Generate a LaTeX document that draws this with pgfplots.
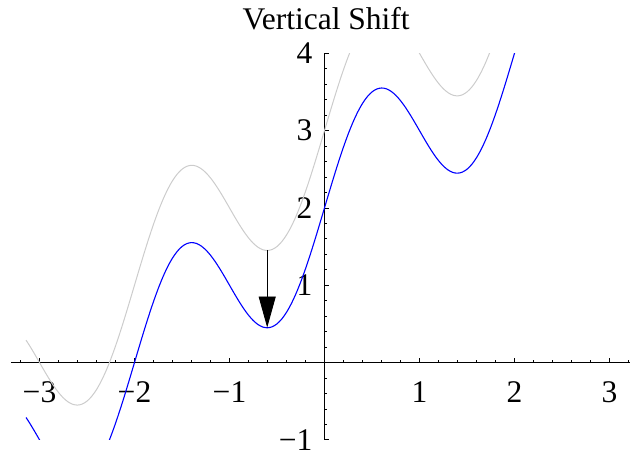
\documentclass[border=0pt]{standalone}
\usepackage{fontspec}
\setmainfont{Liberation Serif}
\usepackage{pgfplots}
\pgfplotsset{compat=1.18}
\usepackage{pgfplotstable}
\usetikzlibrary{arrows.meta}
\newcommand\tl[1]{\textrm{#1}}

\pgfplotstableread{
x f g
-3.1416 -0.7113 0.2887
-3.10 -0.7910 0.2090
-3.05 -0.8936 0.1064
-3.00 -1.0000 0.0000
-2.95 -1.1064 -0.1064
-2.90 -1.2090 -0.2090
-2.85 -1.3040 -0.3040
-2.80 -1.3878 -0.3878
-2.75 -1.4571 -0.4571
-2.70 -1.5090 -0.5090
-2.65 -1.5410 -0.5410
-2.60 -1.5511 -0.5511
-2.55 -1.5377 -0.5377
-2.50 -1.5000 -0.5000
-2.45 -1.4377 -0.4377
-2.40 -1.3511 -0.3511
-2.35 -1.2410 -0.2410
-2.30 -1.1090 -0.1090
-2.25 -0.9571 0.0429
-2.20 -0.7878 0.2122
-2.15 -0.6040 0.3960
-2.10 -0.4090 0.5910
-2.05 -0.2064 0.7936
-2.00 0.0000 1.0000
-1.95 0.2064 1.2064
-1.90 0.4090 1.4090
-1.85 0.6040 1.6040
-1.80 0.7878 1.7878
-1.75 0.9571 1.9571
-1.70 1.1090 2.1090
-1.65 1.2410 2.2410
-1.60 1.3511 2.3511
-1.55 1.4377 2.4377
-1.50 1.5000 2.5000
-1.45 1.5377 2.5377
-1.40 1.5511 2.5511
-1.35 1.5410 2.5410
-1.30 1.5090 2.5090
-1.25 1.4571 2.4571
-1.20 1.3878 2.3878
-1.15 1.3040 2.3040
-1.10 1.2090 2.2090
-1.05 1.1064 2.1064
-1.00 1.0000 2.0000
-0.95 0.8936 1.8936
-0.90 0.7910 1.7910
-0.85 0.6960 1.6960
-0.80 0.6122 1.6122
-0.75 0.5429 1.5429
-0.70 0.4910 1.4910
-0.65 0.4590 1.4590
-0.60 0.4489 1.4489
-0.55 0.4623 1.4623
-0.50 0.5000 1.5000
-0.45 0.5623 1.5623
-0.40 0.6489 1.6489
-0.35 0.7590 1.7590
-0.30 0.8910 1.8910
-0.25 1.0429 2.0429
-0.20 1.2122 2.2122
-0.15 1.3960 2.3960
-0.10 1.5910 2.5910
-0.05 1.7936 2.7936
0.00 2.0000 3.0000
0.05 2.2064 3.2064
0.10 2.4090 3.4090
0.15 2.6040 3.6040
0.20 2.7878 3.7878
0.25 2.9571 3.9571
0.30 3.1090 4.1090
0.35 3.2410 4.2410
0.40 3.3511 4.3511
0.45 3.4377 4.4377
0.50 3.5000 4.5000
0.55 3.5377 4.5377
0.60 3.5511 4.5511
0.65 3.5410 4.5410
0.70 3.5090 4.5090
0.75 3.4571 4.4571
0.80 3.3878 4.3878
0.85 3.3040 4.3040
0.90 3.2090 4.2090
0.95 3.1064 4.1064
1.00 3.0000 4.0000
1.05 2.8936 3.8936
1.10 2.7910 3.7910
1.15 2.6960 3.6960
1.20 2.6122 3.6122
1.25 2.5429 3.5429
1.30 2.4910 3.4910
1.35 2.4590 3.4590
1.40 2.4489 3.4489
1.45 2.4623 3.4623
1.50 2.5000 3.5000
1.55 2.5623 3.5623
1.60 2.6489 3.6489
1.65 2.7590 3.7590
1.70 2.8910 3.8910
1.75 3.0429 4.0429
1.80 3.2122 4.2122
1.85 3.3960 4.3960
1.90 3.5910 4.5910
1.95 3.7936 4.7936
2.00 4.0000 5.0000
2.05 4.2064 5.2064
}\data

\begin{document}
\begin{tikzpicture}
\begin{axis}[
  x=95bp, y=77.3bp,
  xmin=-3.30, xmax=3.216, ymin=-1, ymax=4,
  axis lines=middle,
  every inner x axis line/.append style={-},
  every inner y axis line/.append style={-},
  axis line style={-, line width=0.8bp, black},
  xtick={-3,-2,-1,1,2,3},
  xticklabels={\tl{−3},\tl{−2},\tl{−1},\tl{1},\tl{2},\tl{3}},
  ytick={-1,1,2,3,4},
  yticklabels={\tl{−1},\tl{1},\tl{2},\tl{3},\tl{4}},
  minor xtick={-3.2,-2.8,-2.6,-2.4,-2.2,-1.8,-1.6,-1.4,-1.2,-0.8,-0.6,-0.4,-0.2,0.2,0.4,0.6,0.8,1.2,1.4,1.6,1.8,2.2,2.4,2.6,2.8,3.2},
  minor ytick={-0.8,-0.6,-0.4,-0.2,0.2,0.4,0.6,0.8,1.2,1.4,1.6,1.8,2.2,2.4,2.6,2.8,3.2,3.4,3.6,3.8},
  tick align=inside,
  major tick length=4.5bp, minor tick length=2.5bp,
  tick style={black, line width=0.7bp},
  every tick label/.append style={font=\fontsize{31.5bp}{32bp}\selectfont},
  xticklabel style={font=\fontsize{31.5bp}{32bp}\selectfont, anchor=base, inner sep=0pt, yshift=-40bp},
  yticklabel style={font=\fontsize{31.5bp}{32bp}\selectfont, anchor=east, inner sep=0pt, xshift=-12bp},
  title={Vertical Shift},
  title style={font=\fontsize{31.5bp}{32bp}\selectfont, anchor=base, at={(0.509,1)}, yshift=18.3bp, inner sep=0pt},
  clip=true,
]
\addplot[color=black!20, line width=1bp, smooth] table[x=x, y=g] {\data};
\addplot[color=blue, line width=1.1bp, smooth] table[x=x, y=f] {\data};
\addplot[black, line width=0.9bp, -{Triangle[length=31bp,width=17bp]}] coordinates {(-0.603,1.452) (-0.603,0.452)};
\coordinate (ll) at (rel axis cs:0,0);
\coordinate (ur) at (rel axis cs:1,1);
\end{axis}
\pgfresetboundingbox
\path[use as bounding box] ([xshift=-11bp,yshift=-11bp]ll) rectangle ([xshift=1bp,yshift=53.3bp]ur);
\end{tikzpicture}
\end{document}
